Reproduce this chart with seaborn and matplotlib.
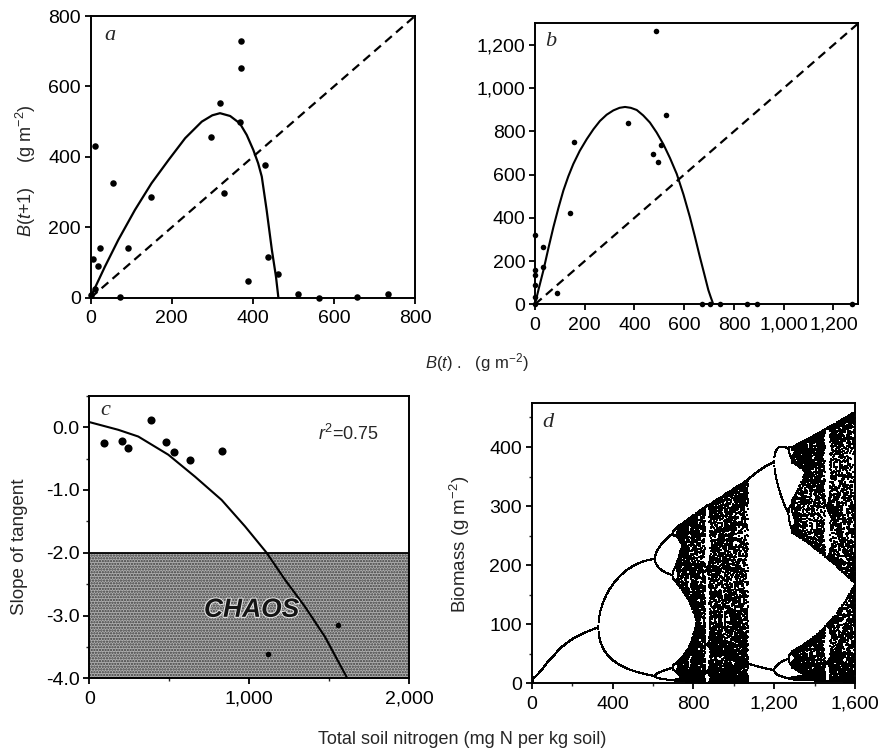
import numpy as np
import pandas as pd
import matplotlib
matplotlib.use("Agg")
import matplotlib.pyplot as plt
import matplotlib.patheffects as pe
from matplotlib.ticker import FuncFormatter, MultipleLocator
import seaborn as sns

# ---------------- data ----------------
# panel a : observed B(t) -> B(t+1)
a_bt  = [0, 10, 5, 11, 18, 23, 56, 72, 93, 148, 297, 319, 330, 370, 370, 368, 389, 430, 437, 462, 511, 563, 656, 734]
a_bt1 = [8, 24, 111, 431, 91, 142, 325, 3, 142, 286, 455, 554, 297, 729, 651, 500, 48, 377, 116, 66, 10, 0, 1, 10]
# panel a : fitted curve
a_fit_x = [0, 6, 35, 68, 109, 150, 192, 233, 274, 300, 319, 344, 368, 385, 401, 413, 422, 434, 447, 457, 463]
a_fit_y = [0, 17, 88, 164, 249, 325, 391, 453, 500, 518, 524, 516, 495, 462, 420, 382, 344, 249, 135, 60, 0]

# panel b : observed
b_bt  = [0, 0, 0, 0, 0, 0, 31, 33, 87, 141, 158, 373, 486, 476, 493, 505, 527, 670, 704, 744, 851, 891, 1273]
b_bt1 = [319, 158, 135, 89, 35, 0, 265, 173, 54, 422, 749, 841, 1263, 695, 657, 737, 875, 0, 0, 0, 0, 0, 0]
# panel b : fitted curve
b_fit_x = [0, 15, 34, 54, 74, 94, 114, 134, 154, 180, 208, 235, 261, 288, 315, 340, 362, 385, 409, 435, 462,
           489, 516, 543, 570, 597, 623, 643, 663, 680, 697, 707, 717]
b_fit_y = [0, 72, 158, 260, 357, 445, 526, 592, 649, 710, 764, 810, 848, 877, 897, 909, 913, 909, 899, 874, 841,
           795, 741, 676, 603, 508, 403, 313, 219, 143, 66, 32, 0]

# panel c : slope of tangent vs soil N
c_n     = [94, 202, 240, 383, 477, 527, 632, 827]
c_slope = [-0.255, -0.218, -0.325, 0.116, -0.245, -0.39, -0.52, -0.378]
c_n_chaos     = [1115, 1557]
c_slope_chaos = [-3.62, -3.15]
c_fit_n = [0, 181, 306, 494, 661, 827, 973, 1108, 1223, 1348, 1473, 1619]
c_fit_s = [0.08, -0.043, -0.15, -0.44, -0.79, -1.16, -1.58, -2.0, -2.43, -2.86, -3.34, -4.03]
c_chaos_limit = -2.0

# panel d : bifurcation model (growth rate r and scale K vs soil N, calibrated on the figure)
d_N_knots = [0, 8, 74, 140, 173, 206, 240, 272, 300, 330, 610, 720, 780, 860, 1069, 1070, 1200, 1290, 1600]
d_r_knots = [1.0, 1.613, 2.105, 2.481, 2.610, 2.725, 2.811, 2.884, 2.942, 3.0, 3.4495, 3.5699, 3.6275,
             3.7382, 3.82, 3.30, 3.4495, 3.5699, 3.6786]
d_K_knots = [543, 543, 543, 543, 543, 543, 543, 543, 543, 543, 424, 432, 425, 400, 421, 795, 755, 652, 659]
d_shape_q = 4.3

# ---------------- style ----------------
sns.set_theme(style="white")
plt.rcParams["font.family"] = ["Liberation Sans", "DejaVu Sans"]
plt.rcParams["mathtext.fontset"] = "custom"
plt.rcParams["mathtext.rm"] = "Liberation Sans"
plt.rcParams["mathtext.it"] = "Liberation Sans:italic"
plt.rcParams["mathtext.bf"] = "Liberation Sans:bold"
plt.rcParams["hatch.linewidth"] = 1.1

W, H = 881, 754
fig = plt.figure(figsize=(W / 100, H / 100), dpi=100)


def add_ax(l, r, t, b):
    return fig.add_axes([l / W, 1 - b / H, (r - l) / W, (b - t) / H])


axa = add_ax(90.7, 415, 16, 297.7)
axb = add_ax(535, 858.3, 23.3, 304.3)
axc = add_ax(89.3, 409.3, 395.7, 678.3)
axd = add_ax(531.7, 855, 402.7, 683.3)

comma = FuncFormatter(lambda v, p: f"{v:,.0f}")


def style(ax):
    for s in ax.spines.values():
        s.set_color("black")
        s.set_linewidth(1.4)
    ax.tick_params(which="major", direction="out", length=4, width=1.3, labelsize=14,
                   colors="black", bottom=True, left=True, top=False, right=False)
    ax.tick_params(axis="x", which="major", pad=5)
    ax.tick_params(axis="y", which="major", pad=3)
    ax.tick_params(which="minor", direction="out", length=2.5, width=1.0,
                   bottom=True, left=True, top=False, right=False)
    ax.set_xlabel("")
    ax.set_ylabel("")
    ax.grid(False)


def panel_letter(ax, s, fx, fy):
    ax.text(fx, fy, s, transform=ax.transAxes, fontsize=16, style="italic",
            family=["Liberation Serif", "DejaVu Serif"], ha="left", va="baseline")


# ---------------- panel a ----------------
sns.lineplot(x=[0, 800], y=[0, 800], ax=axa, color="black", lw=1.6,
             linestyle=(0, (4, 2.5)), estimator=None, sort=False)
sns.lineplot(x=a_fit_x, y=a_fit_y, ax=axa, color="black", lw=1.6, estimator=None, sort=False)
sns.scatterplot(x=a_bt, y=a_bt1, ax=axa, color="black", s=22, linewidth=0, clip_on=False, zorder=5)
axa.set_xlim(0, 800)
axa.set_ylim(0, 800)
axa.set_xticks([0, 200, 400, 600, 800])
axa.set_yticks([0, 200, 400, 600, 800])
style(axa)
panel_letter(axa, "a", 0.043, 0.915)

# ---------------- panel b ----------------
sns.lineplot(x=[0, 1300], y=[0, 1300], ax=axb, color="black", lw=1.6,
             linestyle=(0, (4, 2.5)), estimator=None, sort=False)
sns.lineplot(x=b_fit_x, y=b_fit_y, ax=axb, color="black", lw=1.5, estimator=None, sort=False)
sns.scatterplot(x=b_bt, y=b_bt1, ax=axb, color="black", s=16, linewidth=0, clip_on=False, zorder=5)
axb.set_xlim(0, 1300)
axb.set_ylim(0, 1300)
axb.set_xticks([0, 200, 400, 600, 800, 1000, 1200])
axb.set_yticks([0, 200, 400, 600, 800, 1000, 1200])
axb.xaxis.set_major_formatter(comma)
axb.yaxis.set_major_formatter(comma)
style(axb)
panel_letter(axb, "b", 0.031, 0.918)

# ---------------- panel c ----------------
axc.fill_between([0, 2000], -4.0, c_chaos_limit, facecolor="#b0b0b0", hatch="......",
                 edgecolor="#3a3a3a", linewidth=0, zorder=0)
axc.axhline(c_chaos_limit, color="black", lw=1.3, zorder=1)
sns.lineplot(x=c_fit_n, y=c_fit_s, ax=axc, color="black", lw=1.5, estimator=None, sort=False)
sns.scatterplot(x=c_n, y=c_slope, ax=axc, color="black", s=34, linewidth=0, zorder=5)
sns.scatterplot(x=c_n_chaos, y=c_slope_chaos, ax=axc, color="black", s=16, linewidth=0, zorder=5)
axc.text(1014, -2.91, "CHAOS", fontsize=19, fontweight="bold", style="italic",
         ha="center", va="center", color="#151515",
         path_effects=[pe.withStroke(linewidth=1.5, foreground="#e8e8e8")])
axc.text(1430, -0.2, r"$r^{2}$=0.75", fontsize=13, ha="left", va="baseline")
axc.set_xlim(0, 2000)
axc.set_ylim(-4.0, 0.5)
axc.set_xticks([0, 1000, 2000])
axc.set_yticks([0, -1, -2, -3, -4])
axc.xaxis.set_minor_locator(MultipleLocator(500))
axc.yaxis.set_minor_locator(MultipleLocator(0.5))
axc.xaxis.set_major_formatter(comma)
axc.yaxis.set_major_formatter(FuncFormatter(lambda v, p: f"{v:.1f}"))
style(axc)
panel_letter(axc, "c", 0.034, 0.933)

# ---------------- panel d : bifurcation diagram ----------------
n_sweep = np.linspace(0, 1600, 1601)
r_s = np.interp(n_sweep, d_N_knots, d_r_knots)
K_s = np.interp(n_sweep, d_N_knots, d_K_knots)
x = np.full(n_sweep.shape, 0.31)
for _ in range(3000):
    x = r_s * x * (1 - x)
xs, ys = [], []
for _ in range(30):
    x = r_s * x * (1 - x)
    xs.append(n_sweep)
    ys.append(K_s * x ** d_shape_q)
df_d = pd.DataFrame({"N": np.concatenate(xs), "B": np.concatenate(ys)})
sns.scatterplot(data=df_d, x="N", y="B", ax=axd, s=1.0, marker="s", color="black",
                linewidth=0, rasterized=True, legend=False)
axd.set_xlim(0, 1600)
axd.set_ylim(0, 475)
axd.set_xticks([0, 400, 800, 1200, 1600])
axd.set_yticks([0, 100, 200, 300, 400])
axd.xaxis.set_minor_locator(MultipleLocator(200))
axd.yaxis.set_minor_locator(MultipleLocator(50))
axd.xaxis.set_major_formatter(comma)
style(axd)
panel_letter(axd, "d", 0.034, 0.914)

# ---------------- shared labels ----------------
fig.text(25.5 / W, 1 - 171 / H, r"$B$($t$+1)     (g m$^{-2}$)", rotation=90,
         ha="center", va="center", fontsize=13)
fig.text(477 / W, 1 - 363 / H, r"$B$($t$) .   (g m$^{-2}$)", ha="center", va="center", fontsize=12)
fig.text(462 / W, 1 - 739 / H, "Total soil nitrogen (mg N per kg soil)", ha="center",
         va="center", fontsize=13)
fig.text(19.5 / W, 1 - 547 / H, "Slope of tangent", rotation=90, ha="center", va="center",
         fontsize=13.5)
fig.text(460 / W, 1 - 544 / H, r"Biomass (g m$^{-2}$)", rotation=90, ha="center",
         va="center", fontsize=13.5)

fig.savefig("out.png", dpi=100, facecolor="white")
